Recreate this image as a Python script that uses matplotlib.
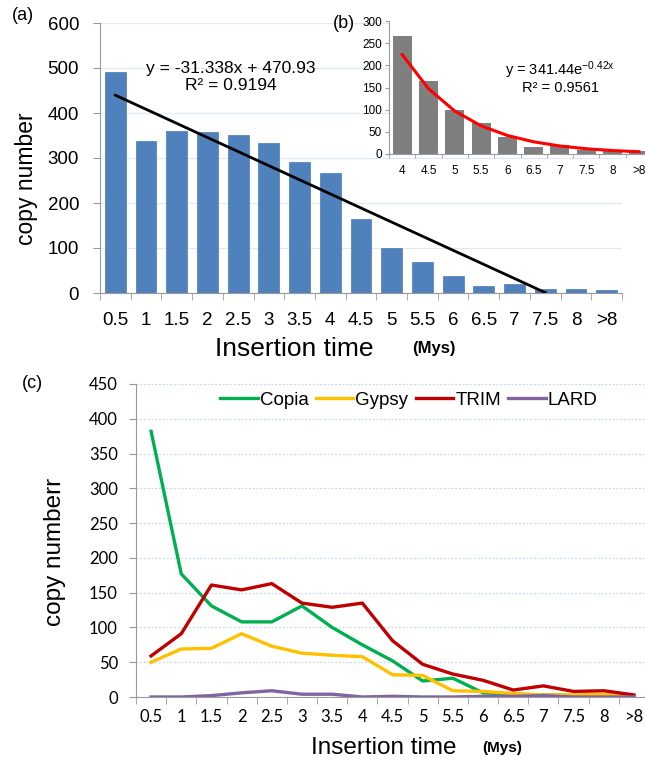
import numpy as np
import matplotlib.pyplot as plt

plt.rcParams['font.family'] = ['Liberation Sans', 'DejaVu Sans']
plt.rcParams['mathtext.fontset'] = 'custom'
plt.rcParams['mathtext.rm'] = 'Liberation Sans'
plt.rcParams['mathtext.it'] = 'Liberation Sans'

# Data
times = ['0.5', '1', '1.5', '2', '2.5', '3', '3.5', '4', '4.5', '5', '5.5',
         '6', '6.5', '7', '7.5', '8', '>8']
copies = [491, 338, 360, 358, 352, 333, 291, 266, 164, 100, 69, 38, 16, 20, 8, 10, 7]

# inset (b): the tail from 4 Mys on
inset_times = times[7:]
inset_copies = copies[7:]

# trendlines printed on the chart
lin_slope, lin_icpt, lin_n = -31.338, 470.93, 15
exp_a, exp_b = 341.44, -0.42

copia = [382, 177, 131, 108, 108, 131, 100, 75, 52, 23, 27, 6, 4, 3, 2, 1, 1]
gypsy = [50, 69, 70, 91, 73, 63, 60, 58, 32, 31, 9, 8, 5, 3, 3, 4, 1]
trim = [59, 91, 161, 154, 163, 135, 129, 135, 81, 47, 33, 24, 10, 16, 8, 9, 3]
lard = [0, 0, 2, 6, 9, 4, 4, 0, 1, 0, 0, 1, 1, 2, 0, 0, 0]

W, H = 645, 763
fig = plt.figure(figsize=(W / 100, H / 100), dpi=100)

def box(l, r, b, t):
    return [l / W, 1 - b / H, (r - l) / W, (b - t) / H]

axis_col = '#9A9A9A'

def excel_axes(ax, n):
    for s in ['top', 'right']:
        ax.spines[s].set_visible(False)
    for s in ['left', 'bottom']:
        ax.spines[s].set_color(axis_col)
    ax.set_xlim(-0.5, n - 0.5)
    ax.set_xticks(np.arange(n))
    ax.set_xticks(np.arange(n + 1) - 0.5, minor=True)
    ax.tick_params(axis='x', which='major', length=0)
    ax.tick_params(axis='x', which='minor', length=5, color=axis_col)
    ax.tick_params(axis='y', length=5, color=axis_col)
    ax.set_axisbelow(True)

# ---- (a)
x = np.arange(len(times))
axa = fig.add_axes(box(100, 622, 293, 23))
excel_axes(axa, len(times))
axa.bar(x, copies, width=0.68, color='#4F81BD', edgecolor='#4A7AB5', linewidth=0.5)
tx = np.arange(lin_n)
axa.plot(tx, lin_slope * (tx + 1) + lin_icpt, color='black', lw=2)
axa.set_ylim(0, 600)
axa.set_yticks(range(0, 601, 100))
axa.set_xticklabels(times, fontsize=13.5)
axa.tick_params(axis='x', which='major', pad=14)
axa.tick_params(axis='y', labelsize=13.5, pad=10)
axa.grid(axis='y', color='#E3E8F0', lw=0.9)
axa.text(0.25, 0.833, 'y = -31.338x + 470.93', transform=axa.transAxes,
         ha='center', va='center', fontsize=12.5)
axa.text(0.25, 0.77, 'R² = 0.9194', transform=axa.transAxes,
         ha='center', va='center', fontsize=12.5)

fig.text(27 / W, 1 - 179 / H, 'copy number', rotation=90, ha='center', va='center', fontsize=16.5)
fig.text(294 / W, 1 - 349 / H, 'Insertion time', ha='center', va='center', fontsize=19)
fig.text(434 / W, 1 - 349 / H, '(Mys)', ha='center', va='center', fontsize=12, fontweight='bold')
fig.text(23 / W, 1 - 16 / H, '(a)', ha='center', va='center', fontsize=13)

# ---- (b)
xb = np.arange(len(inset_times))
axb = fig.add_axes(box(389, 652, 154, 21))
axb.set_facecolor('white')
excel_axes(axb, len(inset_times))
axb.bar(xb, inset_copies, width=0.72, color='#7F7F7F')
axb.plot(xb, exp_a * np.exp(exp_b * (xb + 1)), color='#FF0000', lw=2.2)
axb.set_ylim(0, 300)
axb.set_yticks(range(0, 301, 50))
axb.set_xticklabels(inset_times, fontsize=8.5)
axb.tick_params(axis='x', which='major', pad=8)
axb.tick_params(axis='x', which='minor', length=3)
axb.tick_params(axis='y', labelsize=8.5, length=3, pad=2)
axb.text(560 / W, 1 - 70 / H, 'y = 341.44e$^{-0.42x}$', transform=fig.transFigure,
         ha='center', va='center', fontsize=10.5)
axb.text(560 / W, 1 - 88 / H, 'R² = 0.9561', transform=fig.transFigure,
         ha='center', va='center', fontsize=10.5)
fig.text(344 / W, 1 - 23 / H, '(b)', ha='center', va='center', fontsize=13)

# ---- (c)
axc = fig.add_axes(box(136, 649, 697, 384))
excel_axes(axc, len(times))
axc.plot(x, copia, color='#00B050', lw=2.4, label='Copia')
axc.plot(x, gypsy, color='#FFC000', lw=2.4, label='Gypsy')
axc.plot(x, trim, color='#C00000', lw=2.4, label='TRIM')
axc.plot(x, lard, color='#8064A2', lw=2.4, label='LARD')
axc.set_ylim(0, 450)
axc.set_yticks(range(0, 451, 50))
axc.set_xticklabels(times, fontsize=12, family=['Lato', 'DejaVu Sans'])
for lab in axc.get_yticklabels():
    lab.set_family(['Lato', 'DejaVu Sans'])
axc.tick_params(axis='x', which='major', pad=9)
axc.tick_params(axis='y', labelsize=12, pad=8)
axc.grid(axis='y', color='#C9D8EE', lw=0.9, ls=(0, (1.5, 1.5)))
axc.legend(loc='center', bbox_to_anchor=(0.532, 0.949), ncol=4, frameon=False,
           fontsize=13.5, handlelength=2.0, handletextpad=0.1, columnspacing=0.4)

fig.text(55 / W, 1 - 552 / H, 'copy numberr', rotation=90, ha='center', va='center', fontsize=17.5)
fig.text(384 / W, 1 - 748 / H, 'Insertion time', ha='center', va='center', fontsize=17.5)
fig.text(502 / W, 1 - 748 / H, '(Mys)', ha='center', va='center', fontsize=11, fontweight='bold')
fig.text(32 / W, 1 - 383 / H, '(c)', ha='center', va='center', fontsize=13)

fig.savefig('out.png', dpi=100)
